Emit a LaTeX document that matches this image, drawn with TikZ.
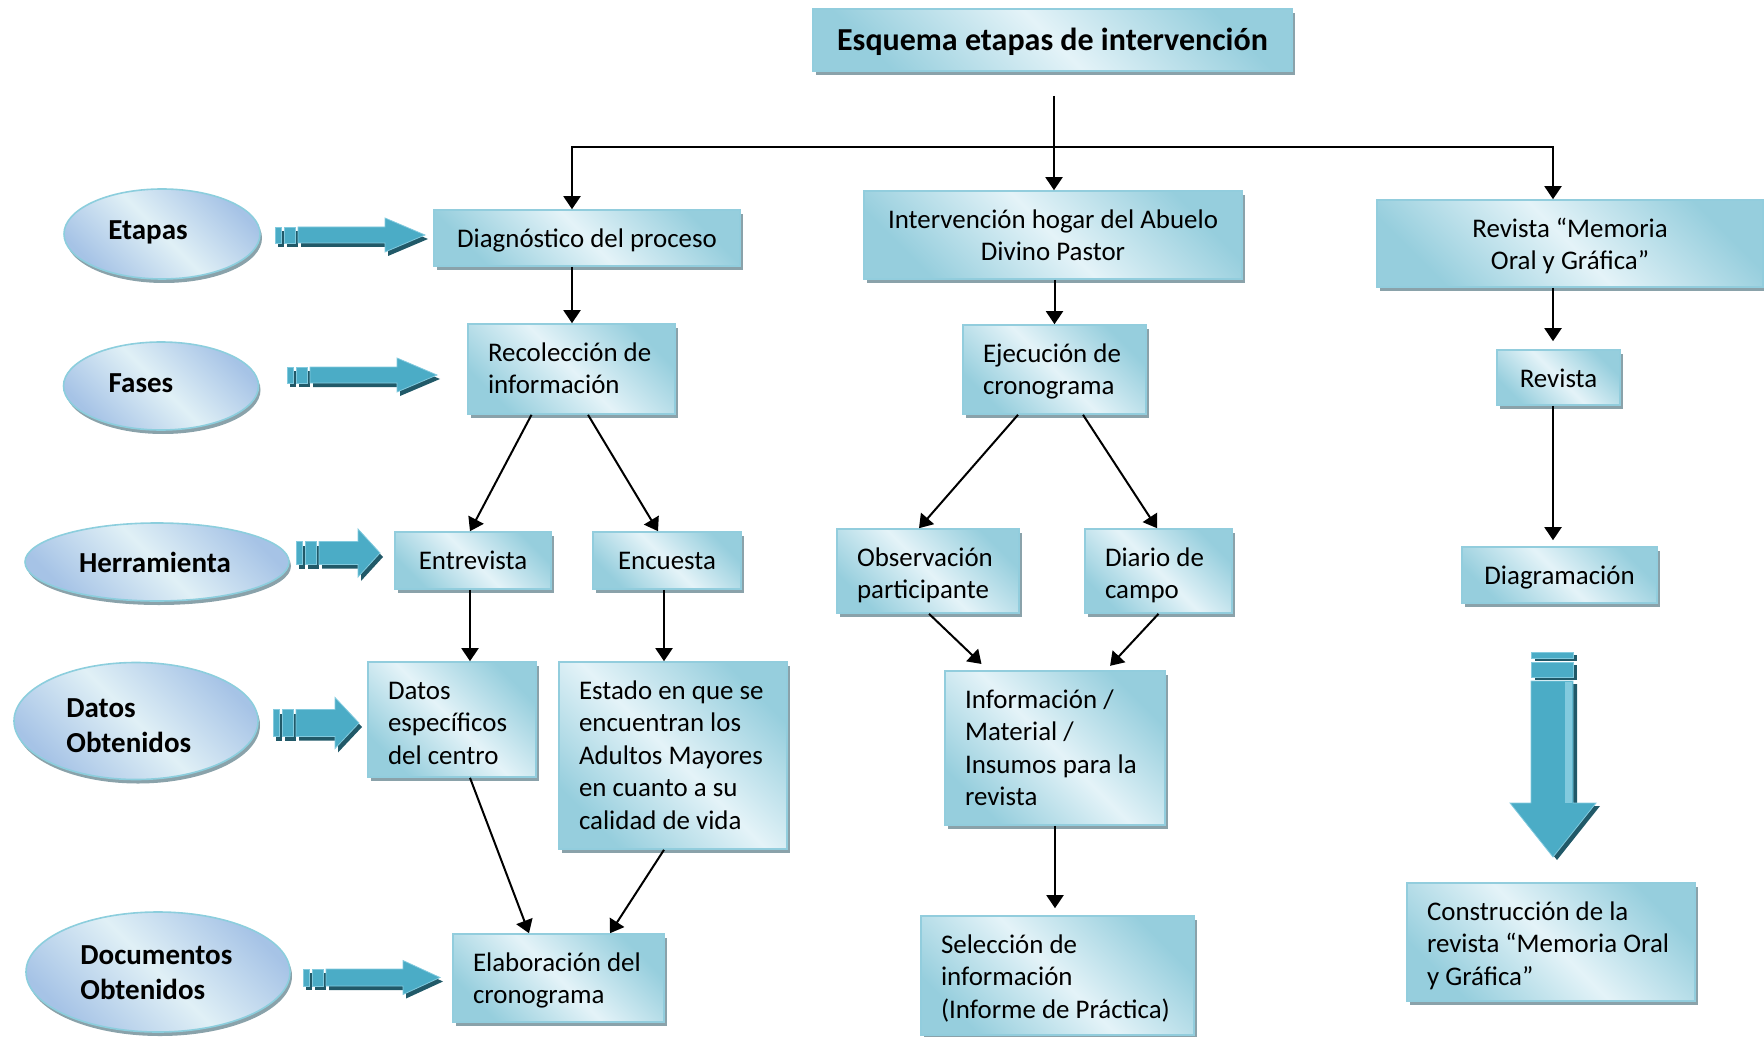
\documentclass[tikz,border=0pt]{standalone}
\usepackage{fontspec}
\setmainfont{Carlito}
\usetikzlibrary{arrows.meta,shapes.geometric,shadows}
\definecolor{bxline}{RGB}{146,205,221}
\definecolor{bxblue}{RGB}{150,206,221}
\definecolor{bxlight}{RGB}{228,243,248}
\definecolor{bxshadow}{RGB}{138,162,170}
\definecolor{elblue}{RGB}{166,195,230}
\definecolor{ellight}{RGB}{224,240,246}
\definecolor{elline}{RGB}{140,206,221}
\definecolor{barfill}{RGB}{75,172,198}
\definecolor{barlight}{RGB}{130,202,222}
\definecolor{bardark}{RGB}{33,89,104}
\tikzset{
 bx/.style={draw=bxline, line width=0.8pt, top color=bxblue, bottom color=bxblue, middle color=bxlight, shading angle=-45,
   drop shadow={shadow xshift=1.6pt, shadow yshift=-1.8pt, fill=bxshadow, opacity=1},
   inner sep=0pt, font=\fontsize{13.45}{16.2}\selectfont, text height=18.75pt},
 el/.style={ellipse, draw=elline, line width=0.8pt, top color=elblue, bottom color=elblue, middle color=ellight, shading angle=-45,
   drop shadow={shadow xshift=1pt, shadow yshift=-2pt, fill=bxshadow, opacity=1}, inner sep=0pt},
 eltxt/.style={font=\bfseries\fontsize{14.5}{17.5}\selectfont, align=left, inner sep=0pt},
 arr/.style={draw=black, line width=1pt, -{Triangle[width=8.5pt,length=6.5pt]}},
 barpart/.style={fill=barfill, draw=barlight, line width=0.4pt},
 barshad/.style={fill=bardark},
}
\newcommand\boxtl[2]{\parbox[t]{#1}{\raggedright #2}}
\newcommand\boxtc[2]{\parbox[t]{#1}{\centering #2}}
\newcommand\hbshape[7]{%
 \path[#7] (#1,{#3-#4}) rectangle ({#1+6},{#3+#4});
 \path[#7] ({#1+9},{#3-#4}) rectangle ({#1+20},{#3+#4});
 \path[#7] ({#1+23},{#3-#4}) -- ({#2-#6},{#3-#4}) -- ({#2-#6},{#3-#5}) -- (#2,#3) -- ({#2-#6},{#3+#5}) -- ({#2-#6},{#3+#4}) -- ({#1+23},{#3+#4}) -- cycle;
}
\newcommand\hbarrow[6]{%
 \begin{scope}[shift={(3,4)}]\hbshape{#1}{#2}{#3}{#4}{#5}{#6}{barshad}\end{scope}
 \hbshape{#1}{#2}{#3}{#4}{#5}{#6}{barpart}
}
\newcommand\vbshape[1]{%
 \path[#1] (1531,652) rectangle (1573,658);
 \path[#1] (1531,662) rectangle (1573,677);
 \path[#1] (1531,681) -- (1573,681) -- (1573,803) -- (1596,803) -- (1553,857) -- (1510,803) -- (1531,803) -- cycle;
}
\begin{document}
\begin{tikzpicture}[x=0.5pt,y=-0.5pt]
\useasboundingbox (0,0) rectangle (1764,1037);

% ellipses
\node[el, minimum width=98pt, minimum height=45pt] (etapas) at (162,234) {};
\node[el, minimum width=97.5pt, minimum height=44pt] (fases) at (161,386) {};
\node[el, minimum width=132pt, minimum height=39pt] (herr) at (157,562) {};
\node[el, minimum width=122pt, minimum height=58.5pt] (datosE) at (136,721) {};
\node[el, minimum width=132pt, minimum height=60pt] (docs) at (158,972) {};
\node[eltxt] (etapasT) at (148,232) {Etapas};
\node[eltxt] (fasesT) at (141,383) {Fases};
\node[eltxt] (herrT) at (155,562) {Herramienta};
\node[eltxt, anchor=west] (datosT) at (66,726) {Datos\\Obtenidos};
\node[eltxt, anchor=west] (docsT) at (80,973) {Documentos\\Obtenidos};

% block arrows
\hbarrow{275}{425}{235}{8}{17}{40}
\hbarrow{287}{437}{375}{8}{17}{40}
\hbarrow{296}{380}{553}{11.5}{24}{22}
\hbarrow{273}{359}{723}{13.5}{25.5}{24}
\hbarrow{303}{440}{977.5}{8.5}{17}{37}
\begin{scope}[shift={(4,3)}]\vbshape{barshad}\end{scope}
\vbshape{barpart}
\fill[barlight] (1565,682) rectangle (1572,803);

% title
\node[bx, font=\bfseries\fontsize{16}{19}\selectfont, minimum width=239.5pt, minimum height=31pt, text height=21pt, text depth=10pt] (title) at (1052.5,40) {Esquema etapas de intervención};

% boxes
\node[bx, minimum width=153pt, minimum height=28pt, text depth=9.25pt] (diag) at (587,238) {Diagnóstico del proceso};
\node[bx, minimum width=103.5pt, minimum height=45pt, text depth=26.25pt] (reco) at (571.5,369) {\boxtl{83.5pt}{Recolección~de\\información}};
\node[bx, minimum width=78pt, minimum height=28.5pt, text depth=9.75pt] (entr) at (473,560.5) {Entrevista};
\node[bx, minimum width=74pt, minimum height=28.5pt, text depth=9.75pt] (encu) at (667,560.5) {Encuesta};
\node[bx, minimum width=84pt, minimum height=57.5pt, text depth=38.75pt] (datos) at (452,719.5) {\boxtl{64pt}{Datos\\específicos\\del~centro}};
\node[bx, minimum width=114pt, minimum height=93.5pt, text depth=74.75pt] (estado) at (673,755.5) {\boxtl{94pt}{Estado~en~que~se\\encuentran~los\\Adultos~Mayores\\en~cuanto~a~su\\calidad~de~vida}};
\node[bx, minimum width=105.5pt, minimum height=44pt, text depth=25.25pt] (elab) at (558.5,978) {\boxtl{85.5pt}{Elaboración~del\\cronograma}};
\node[bx, minimum width=189pt, minimum height=44pt, text depth=25.25pt] (interv) at (1053,235) {\boxtc{189pt}{Intervención hogar del Abuelo\\Divino Pastor}};
\node[bx, minimum width=91.5pt, minimum height=44.5pt, text depth=25.75pt] (ejec) at (1054.5,369.5) {\boxtl{71.5pt}{Ejecución~de\\cronograma}};
\node[bx, minimum width=91pt, minimum height=42pt, text depth=23.25pt] (obs) at (928,571) {\boxtl{71pt}{Observación\\participante}};
\node[bx, minimum width=73.5pt, minimum height=42pt, text depth=23.25pt] (diario) at (1158.5,571) {\boxtl{53.5pt}{Diario~de\\campo}};
\node[bx, minimum width=110pt, minimum height=77pt, text depth=58.25pt] (info) at (1055,748) {\boxtl{90pt}{Información~/\\Material~/\\Insumos~para~la\\revista}};
\node[bx, minimum width=136.5pt, minimum height=59.5pt, text depth=40.75pt] (selec) at (1057.5,975.5) {\boxtl{116.5pt}{Selección~de\\información\\(Informe~de~Práctica)}};
\node[bx, minimum width=193pt, minimum height=43.5pt, text depth=24.75pt] (revm) at (1570,243.5) {\boxtc{193pt}{Revista “Memoria\\Oral y Gráfica”}};
\node[bx, minimum width=61.5pt, minimum height=27.5pt, text depth=8.75pt] (revista) at (1558.5,377.5) {Revista};
\node[bx, minimum width=97.5pt, minimum height=28pt, text depth=9.25pt] (diagr) at (1559.5,575) {Diagramación};
\node[bx, minimum width=144pt, minimum height=59pt, text depth=40.25pt] (constr) at (1551,942) {\boxtl{124pt}{Construcción~de~la\\revista~“Memoria~Oral\\y~Gráfica”}};

% connectors
\coordinate (tsplit) at (1054,96);
\coordinate (hbar) at (1054,147);
\draw[arr] (tsplit) -- ([xshift=0.5pt]interv.north);
\draw[arr] (hbar) -| ([xshift=-7.5pt]diag.north);
\draw[arr] (hbar) -| ([xshift=-8.5pt]revm.north);
\draw[arr] ([xshift=-7.5pt]diag.south) -- ([xshift=0.25pt]reco.north);
\draw[arr] ([xshift=-20pt]reco.south) -- ([xshift=-1.5pt]entr.north);
\draw[arr] ([xshift=8.25pt]reco.south) -- ([xshift=-4.5pt]encu.north);
\draw[arr] ([xshift=-1.5pt]entr.south) -- ([xshift=9pt]datos.north);
\draw[arr] ([xshift=-1.5pt]encu.south) -- ([xshift=-4.5pt]estado.north);
\draw[arr] ([xshift=9pt]datos.south) -- ([xshift=-14.75pt]elab.north);
\draw[arr] ([xshift=-4.5pt]estado.south) -- ([xshift=25.75pt]elab.north);
\draw[arr] ([xshift=0.75pt]interv.south) -- (ejec.north);
\draw[arr] ([xshift=-18.25pt]ejec.south) -- ([xshift=-4.5pt]obs.north);
\draw[arr] ([xshift=14.25pt]ejec.south) -- ([xshift=-0.75pt]diario.north);
\draw[arr, shorten >=4.5pt] ([xshift=0.5pt]obs.south) -- ([xshift=-33.5pt]info.north);
\draw[arr, shorten >=3pt] (diario.south) -- ([xshift=25.5pt]info.north);
\draw[arr, shorten >=3.5pt] (info.south) -- ([xshift=-1.25pt]selec.north);
\draw[arr, shorten >=4pt] ([xshift=-8.5pt]revm.south) -- ([xshift=-2.75pt]revista.north);
\draw[arr, shorten >=3pt] ([xshift=-2.75pt]revista.south) -- ([xshift=-3.25pt]diagr.north);
\end{tikzpicture}
\end{document}
